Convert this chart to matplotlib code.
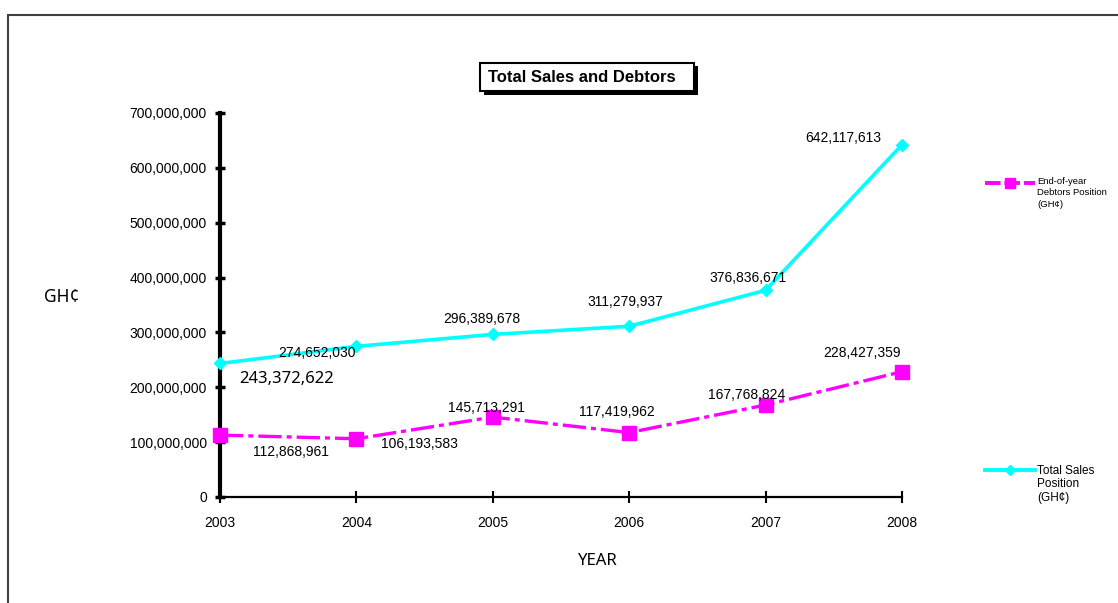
import matplotlib.pyplot as plt
from matplotlib.lines import Line2D
from matplotlib.patches import Rectangle
from matplotlib.ticker import FuncFormatter

years = [2003, 2004, 2005, 2006, 2007, 2008]
sales = [243372622, 274652030, 296389678, 311279937, 376836671, 642117613]
debtors = [112868961, 106193583, 145713291, 117419962, 167768824, 228427359]

# label offsets in pixels from each point
sales_off = [(67, -16), (-39, -7), (-11, 15), (-4, 24), (-18, 12), (-59, 7)]
debtors_off = [(71, -17), (63, -5), (-6, 9), (-12, 21), (-19, 10), (-40, 19)]

W, H = 1118, 603
fig = plt.figure(figsize=(W / 100, H / 100), dpi=100)
plt.rcParams['font.family'] = ['Liberation Sans', 'DejaVu Sans']
alt_font = ['Noto Sans', 'DejaVu Sans']

# outer frame
fig.patches.append(Rectangle((8 / W, -0.1), 1.2, 1 - 15 / H + 0.1, transform=fig.transFigure,
                             fill=False, edgecolor='#404040', linewidth=1.5))

ax = fig.add_axes([220 / W, 1 - 497 / H, 682 / W, 384 / H])
ax.set_xlim(2003, 2008)
ax.set_ylim(0, 700000000)

ax.plot(years, sales, color='#00FFFF', linewidth=2.6, marker='D', markersize=6,
        clip_on=False, zorder=3)
ax.plot(years, debtors, color='#FF00FF', linewidth=2.4, marker='s', markersize=9.5,
        linestyle=(0, (7, 1.5, 1.5, 1.5)), clip_on=False, zorder=3)

for x, v, (dx, dy) in zip(years, sales, sales_off):
    if x == 2003:
        ax.annotate(f'{v:,}', (x, v), xytext=(dx, dy), textcoords='offset pixels',
                    ha='center', va='center', fontsize=12, family=alt_font)
    else:
        ax.annotate(f'{v:,}', (x, v), xytext=(dx, dy), textcoords='offset pixels',
                    ha='center', va='center', fontsize=10)
for x, v, (dx, dy) in zip(years, debtors, debtors_off):
    ax.annotate(f'{v:,}', (x, v), xytext=(dx, dy), textcoords='offset pixels',
                ha='center', va='center', fontsize=10)

ax.set_xticks(years)
ax.set_yticks(range(0, 700000001, 100000000))
ax.yaxis.set_major_formatter(FuncFormatter(lambda v, p: f'{int(v):,}'))
ax.tick_params(axis='y', direction='inout', length=7, width=2.5, labelsize=10, pad=6)
ax.tick_params(axis='x', direction='inout', length=8, width=1.5, labelsize=10, pad=10)
ax.spines['top'].set_visible(False)
ax.spines['right'].set_visible(False)
ax.spines['left'].set_linewidth(3)
ax.spines['bottom'].set_linewidth(1.6)

fig.text(62 / W, 1 - 297 / H, 'GH¢', ha='center', va='center', fontsize=12.5, family=alt_font)
fig.text(598 / W, 1 - 561 / H, 'YEAR', ha='center', va='center', fontsize=12, family=alt_font)

# title box with drop shadow
fig.patches.append(Rectangle((484 / W, 1 - 95 / H), 214 / W, 29 / H, transform=fig.transFigure,
                             facecolor='black', edgecolor='none'))
fig.patches.append(Rectangle((480 / W, 1 - 91 / H), 214 / W, 28 / H, transform=fig.transFigure,
                             facecolor='white', edgecolor='black', linewidth=1.5))
fig.text(582 / W, 1 - 77 / H, 'Total Sales and Debtors', ha='center', va='center',
         fontsize=12, fontweight='bold')

# legend keys
fig.lines.append(Line2D([985 / W, 1010 / W, 1035 / W], [1 - 183 / H] * 3, transform=fig.transFigure,
                        color='#FF00FF', linewidth=2.8, marker='s', markersize=7, markevery=[1],
                        linestyle=(0, (4, 1))))
fig.lines.append(Line2D([985 / W, 1010 / W, 1035 / W], [1 - 470 / H] * 3, transform=fig.transFigure,
                        color='#00FFFF', linewidth=2.8, marker='D', markersize=5, markevery=[1]))
fig.text(1037 / W, 1 - 177 / H, 'End-of-year\nDebtors Position\n(GH¢)', ha='left', va='top',
         fontsize=6.8, linespacing=1.35)
fig.text(1037 / W, 1 - 465 / H, 'Total Sales\nPosition\n(GH¢)', ha='left', va='top',
         fontsize=8.5, linespacing=1.15)

fig.savefig('out.png', dpi=100)
